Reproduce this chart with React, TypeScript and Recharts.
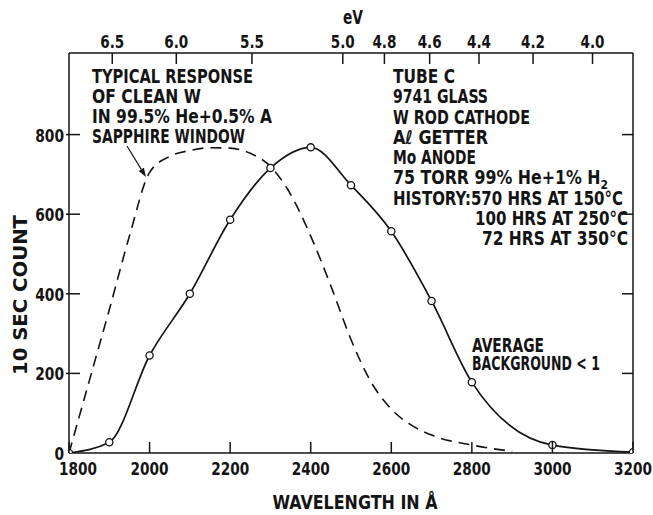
import { LineChart, Line, XAxis, YAxis, Customized } from "recharts";

const wavelengthTicks = [1800, 2000, 2200, 2400, 2600, 2800, 3000, 3200];
const countTicks = [0, 200, 400, 600, 800];
const evTicks = [6.5, 6.0, 5.5, 5.0, 4.8, 4.6, 4.4, 4.2, 4.0];

// tube C, measured points (circles)
const tubeWavelength = [1800, 1900, 2000, 2100, 2200, 2300, 2400, 2500, 2600, 2700, 2800, 3000, 3200];
const tubeCount = [0, 27, 245, 400, 586, 716, 768, 673, 557, 382, 178, 20, 2];

// typical response of clean W (dashed)
const cleanWavelength = [1800, 1850, 1900, 1950, 2000, 2050, 2100, 2150, 2200, 2250, 2300, 2350, 2400, 2450, 2500, 2550, 2600, 2650, 2700, 2800, 2900];
const cleanCount = [0, 180, 360, 545, 705, 745, 760, 767, 766, 753, 720, 650, 545, 420, 285, 178, 110, 70, 45, 20, 4];

const tubeData = tubeWavelength.map((w, i) => ({ wavelength: w, count: tubeCount[i] }));
const cleanData = cleanWavelength.map((w, i) => ({ wavelength: w, count: cleanCount[i] }));

const HC = 12398; // eV·Å
const FONT = "'Liberation Sans Narrow', 'DejaVu Sans Condensed', 'Arial Narrow', sans-serif";
const INK = "#141414";

// lettering is narrow, so every label is squeezed to the width it has in the original
function T({ x, y, w, size = 19, anchor = "start", children, ...rest }: any) {
  return (
    <text
      x={x}
      y={y}
      textLength={w}
      lengthAdjust="spacingAndGlyphs"
      textAnchor={anchor}
      fontSize={size}
      fontFamily={FONT}
      fontWeight={700}
      fill={INK}
      {...rest}
    >
      {children}
    </text>
  );
}

function BottomTick({ x, y, payload }: any) {
  const dx = payload.value === 1800 ? 9 : 0;
  return (
    <g>
      <line x1={x} y1={y} x2={x} y2={y - 11} stroke={INK} strokeWidth={1.5} />
      <T x={x + dx} y={y + 22} w={38} size={18} anchor="middle">
        {payload.value}
      </T>
    </g>
  );
}

function TopTick({ x, y, index }: any) {
  return (
    <g>
      <line x1={x} y1={y} x2={x} y2={y + 11} stroke={INK} strokeWidth={1.5} />
      <T x={x} y={y - 5} w={24} size={17} anchor="middle">
        {evTicks[index].toFixed(1)}
      </T>
    </g>
  );
}

function LeftTick({ x, y, payload }: any) {
  const label = String(payload.value);
  return (
    <g>
      {payload.value > 0 && <line x1={x - 3} y1={y} x2={x + 11} y2={y} stroke={INK} strokeWidth={1.5} />}
      <T x={x - 5} y={y + 7} w={label.length * 9.6} size={18} anchor="end">
        {label}
      </T>
    </g>
  );
}

function RightTick({ x, y }: any) {
  return <line x1={x} y1={y} x2={x - 11} y2={y} stroke={INK} strokeWidth={1.5} />;
}

function Notes() {
  // arrow from the label to the dashed curve
  const x1 = 127, y1 = 146, x2 = 146, y2 = 177;
  const len = Math.hypot(x2 - x1, y2 - y1);
  const ux = (x2 - x1) / len, uy = (y2 - y1) / len;
  const bx = x2 - ux * 9, by = y2 - uy * 9;
  const head = `${x2},${y2} ${bx - uy * 3},${by + ux * 3} ${bx + uy * 3},${by - ux * 3}`;

  return (
    <g>
      <T x={353} y={24} w={20} anchor="middle">eV</T>
      <T x={355} y={509} w={165} anchor="middle">WAVELENGTH IN Å</T>
      <T x={27} y={295} w={160} anchor="middle" transform="rotate(-90 27 295)">10 SEC COUNT</T>

      <T x={92} y={83} w={161}>TYPICAL RESPONSE</T>
      <T x={92} y={103} w={109}>OF CLEAN W</T>
      <T x={92} y={123} w={180}>IN 99.5% He+0.5% A</T>
      <T x={92} y={143} w={153}>SAPPHIRE WINDOW</T>
      <line x1={x1} y1={y1} x2={bx} y2={by} stroke={INK} strokeWidth={1.2} />
      <polygon points={head} fill={INK} />

      <T x={393} y={83} w={62}>TUBE C</T>
      <T x={393} y={103} w={95}>9741 GLASS</T>
      <T x={393} y={124} w={137}>W ROD CATHODE</T>
      <T x={393} y={144} w={95}>Aℓ GETTER</T>
      <T x={393} y={164} w={83}>Mo ANODE</T>
      <T x={393} y={184} w={215}>
        75 TORR 99% He+1% H
        <tspan fontSize={13} dy={5}>2</tspan>
      </T>
      <T x={393} y={205} w={230}>HISTORY:570 HRS AT 150°C</T>
      <T x={628} y={225} w={153} anchor="end">100 HRS AT 250°C</T>
      <T x={628} y={245} w={146} anchor="end">72 HRS AT 350°C</T>

      <T x={472} y={352} w={72}>AVERAGE</T>
      <T x={472} y={370} w={128}>BACKGROUND &lt; 1</T>
    </g>
  );
}

export default function App() {
  return (
    <div style={{ position: "absolute", left: 0, top: 0, background: "#fff" }}>
      <LineChart width={653} height={515} margin={{ top: 13, right: 10, bottom: 22, left: 19 }}>
        <XAxis
          xAxisId="wl"
          dataKey="wavelength"
          type="number"
          domain={[1800, 3200]}
          ticks={wavelengthTicks}
          interval={0}
          height={40}
          tickSize={0}
          tickMargin={0}
          tickLine={false}
          axisLine={{ stroke: INK, strokeWidth: 1.5 }}
          tick={<BottomTick />}
          allowDataOverflow
        />
        <XAxis
          xAxisId="ev"
          orientation="top"
          dataKey="wavelength"
          type="number"
          domain={[1800, 3200]}
          ticks={evTicks.map((e) => HC / e)}
          interval={0}
          height={40}
          tickSize={0}
          tickMargin={0}
          tickLine={false}
          axisLine={{ stroke: INK, strokeWidth: 1.5 }}
          tick={<TopTick />}
          allowDataOverflow
        />
        <YAxis
          yAxisId="count"
          type="number"
          domain={[0, 1005]}
          ticks={countTicks}
          interval={0}
          width={50}
          tickSize={0}
          tickMargin={0}
          tickLine={false}
          axisLine={{ stroke: INK, strokeWidth: 1.5 }}
          tick={<LeftTick />}
          allowDataOverflow
        />
        <YAxis
          yAxisId="frame"
          orientation="right"
          type="number"
          domain={[0, 1005]}
          ticks={countTicks.filter((t) => t > 0)}
          interval={0}
          width={10}
          tickSize={0}
          tickMargin={0}
          tickLine={false}
          axisLine={{ stroke: INK, strokeWidth: 1.5 }}
          tick={<RightTick />}
          allowDataOverflow
        />
        <Line
          xAxisId="wl"
          yAxisId="count"
          data={cleanData}
          dataKey="count"
          type="monotone"
          stroke={INK}
          strokeWidth={1.6}
          strokeDasharray="11 7"
          dot={false}
          activeDot={false}
          isAnimationActive={false}
        />
        <Line
          xAxisId="wl"
          yAxisId="count"
          data={tubeData}
          dataKey="count"
          type="monotone"
          stroke={INK}
          strokeWidth={1.7}
          dot={{ r: 3.6, fill: "#fff", stroke: INK, strokeWidth: 1.3 }}
          activeDot={false}
          isAnimationActive={false}
        />
        <Customized component={<Notes />} />
      </LineChart>
    </div>
  );
}
